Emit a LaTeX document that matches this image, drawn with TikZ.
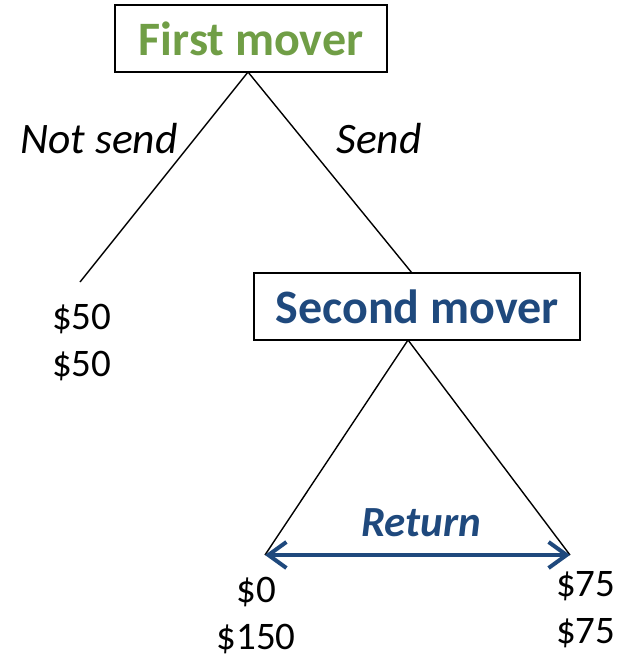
\documentclass[tikz,border=0pt]{standalone}
\usepackage{fontspec}
\setmainfont{Carlito}
\usetikzlibrary{arrows.meta}
\definecolor{firstgreen}{RGB}{112,158,70}
\definecolor{secondblue}{RGB}{31,73,125}
\tikzset{
  player/.style={draw=black, line width=1.8pt, inner sep=0pt, font=\bfseries\fontsize{48}{56}\selectfont},
  branch/.style={draw=black, line width=1.4pt},
  action/.style={inner sep=0pt, font=\itshape\fontsize{43.5}{50}\selectfont},
  payoff/.style={inner sep=0pt, font=\fontsize{39}{47}\selectfont},
  returnarrow/.style={draw=secondblue, line width=4pt,
    {Straight Barb[length=18pt,width=26pt,line width=4pt]}-{Straight Barb[length=18pt,width=26pt,line width=4pt]}},
}
\begin{document}
\begin{tikzpicture}[x=1pt,y=-1pt]
  \useasboundingbox (0,0) rectangle (629,657);
  % decision nodes
  \node[player, text=firstgreen, minimum width=272pt, minimum height=67pt] (fm) at (251,38.5) {First mover};
  \node[player, text=secondblue, minimum width=326pt, minimum height=67pt] (sm) at (417,306.5) {Second mover};
  % branch end points
  \coordinate (top) at (248,72);
  \coordinate (ns) at (80,282);
  \coordinate (smtop) at (412,273);
  \coordinate (smbot) at (408,340);
  \coordinate (ll) at (265,555);
  \coordinate (lr) at (570,555);
  % branches
  \draw[branch] (top) -- (ns);
  \draw[branch] (top) -- (smtop);
  \draw[branch] (smbot) -- (ll);
  \draw[branch] (smbot) -- (lr);
  \draw[returnarrow] (ll) -- (lr);
  % labels
  \node[action, anchor=base] (lns) at (99,153) {Not send};
  \node[action, anchor=base] (lsend) at (379,153) {Send};
  \node[action, anchor=base, text=secondblue, font=\bfseries\itshape\fontsize{43}{50}\selectfont] (lret) at (421,536) {Return};
  % payoffs
  \node[payoff, align=left, anchor=base west] (p1) at (52,376) {\$50\\\$50};
  \node[payoff, align=center, anchor=base] (p2) at (256,649) {\$0\\\$150};
  \node[payoff, align=left, anchor=base west] (p3) at (556,643) {\$75\\\$75};
\end{tikzpicture}
\end{document}
